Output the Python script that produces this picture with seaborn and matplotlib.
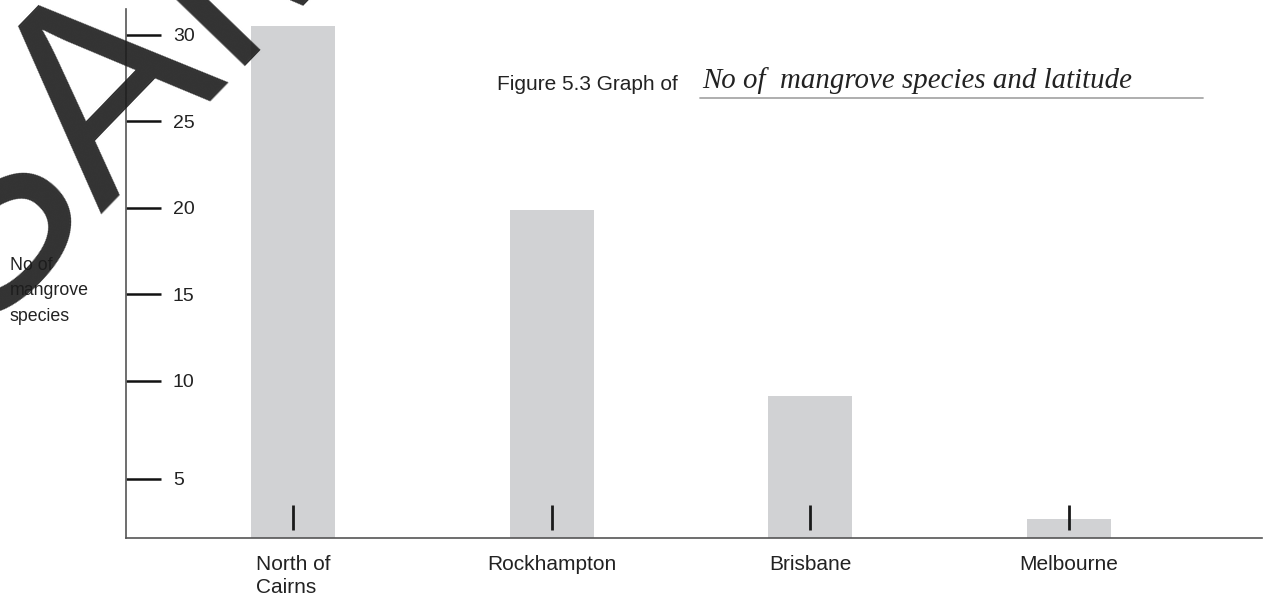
import pandas as pd
import matplotlib.pyplot as plt
import seaborn as sns
from matplotlib.lines import Line2D

# Data
locations = ['North of\nCairns', 'Rockhampton', 'Brisbane', 'Melbourne']
species = [30.5, 19.9, 9.1, 2.0]
# the hand-drawn "5" tick sits a bit low on the original
tick_values = [30, 25, 20, 15, 10, 4.35]
tick_labels = ['30', '25', '20', '15', '10', '5']

sns.set_style('white')
plt.rcParams['font.family'] = ['Liberation Sans', 'DejaVu Sans']

W, H = 1264, 598
fig = plt.figure(figsize=(W / 100, H / 100), dpi=100)
ax = fig.add_axes([126 / W, 60 / H, 1136 / W, 529 / H])

df = pd.DataFrame({'location': locations, 'species': species})
sns.barplot(data=df, x='location', y='species', color='#d1d2d4', saturation=1,
            width=0.325, linewidth=0, ax=ax, zorder=2)

# small vertical markers inside each bar
ax.vlines(range(len(locations)), 1.39, 2.83, color='#1a1a1a', lw=2, zorder=3)

ax.set_ylim(0.92, 31.5)
ax.set_xlim(-0.6455, 3.746)
ax.set_xlabel('')
ax.set_ylabel('')

for side in ['top', 'right']:
    ax.spines[side].set_visible(False)
for side in ['left', 'bottom']:
    ax.spines[side].set_color('#555555')
    ax.spines[side].set_linewidth(1.2)

ax.set_yticks(tick_values, tick_labels)
ax.tick_params(axis='y', left=True, direction='in', length=25, width=1.8,
               color='#111111', pad=-33.8, labelsize=14, labelcolor='#222222')
for lab in ax.get_yticklabels():
    lab.set_ha('left')

ax.tick_params(axis='x', bottom=False, length=0, pad=12, labelsize=15,
               labelcolor='#222222')
for lab in ax.get_xticklabels():
    lab.set_multialignment('left')
    lab.set_linespacing(1.3)

# title
fig.text(497 / W, 1 - 90 / H, 'Figure 5.3 Graph of', fontsize=15,
         va='baseline', ha='left', color='#222222')
fig.text(702 / W, 1 - 88 / H, 'No of  mangrove species and latitude',
         family=['Liberation Serif', 'DejaVu Serif'], style='italic',
         fontsize=20.8, va='baseline', ha='left', color='#222222')
fig.add_artist(Line2D([700 / W, 1203 / W], [1 - 98 / H] * 2,
                      transform=fig.transFigure, color='#a8a8a8', lw=1.3))

# y axis caption
fig.text(10 / W, 1 - 257 / H, 'No of\nmangrove\nspecies', fontsize=12.8,
         va='top', ha='left', linespacing=1.65, color='#222222')

# watermark
fig.text(-30 / W, 1 - 338 / H, 'SAMPLE', fontsize=199, rotation=46,
         rotation_mode='anchor', ha='left', va='baseline',
         color='#1c1c1c', alpha=0.9, zorder=10)

fig.savefig('out.png', dpi=100)
